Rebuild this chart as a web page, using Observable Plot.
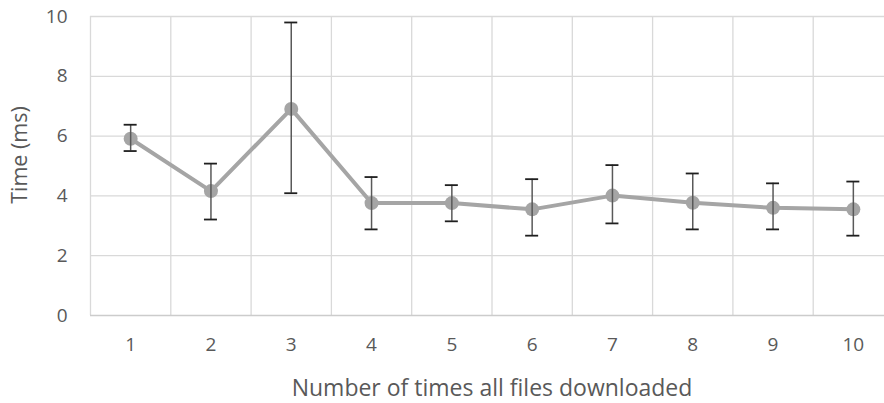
<!DOCTYPE html>
<html>
<head>
<meta charset="utf-8">
<script src="https://cdn.jsdelivr.net/npm/d3@7"></script>
<script src="https://cdn.jsdelivr.net/npm/@observablehq/plot@0.6"></script>
<style>
  html, body { margin: 0; padding: 0; background: #fff; overflow: hidden; width: 884px; height: 403px; }
  #chart { width: 884px; height: 403px; overflow: hidden; position: relative; }
</style>
</head>
<body>
<div id="chart"></div>
<script>
const runs = [1, 2, 3, 4, 5, 6, 7, 8, 9, 10];
const meanTime = [5.91, 4.16, 6.91, 3.76, 3.76, 3.55, 4.01, 3.77, 3.60, 3.55];
const upperTime = [6.38, 5.08, 9.80, 4.63, 4.36, 4.56, 5.03, 4.75, 4.42, 4.48];
const lowerTime = [5.50, 3.21, 4.09, 2.88, 3.15, 2.67, 3.08, 2.88, 2.88, 2.67];
const yTicks = [0, 2, 4, 6, 8, 10];

const data = runs.map((r, i) => ({run: r, mean: meanTime[i], hi: upperTime[i], lo: lowerTime[i]}));
const boundaries = [...runs.map(r => r - 0.5), runs[runs.length - 1] + 0.5];

const font = "'Open Sans', 'Liberation Sans', sans-serif";
const plot = Plot.plot({
  width: 893,
  height: 403,
  marginLeft: 90,
  marginRight: 0,
  marginTop: 16,
  marginBottom: 88,
  style: {fontFamily: font, fontSize: "16px", color: "#595959", background: "#fff", maxWidth: "none", overflow: "visible"},
  x: {type: "linear", domain: [0.5, 10.5], label: null},
  y: {type: "linear", domain: [0, 10], label: null},
  marks: [
    Plot.ruleY(yTicks.filter(t => t > 0), {stroke: "#d9d9d9", strokeWidth: 1.3}),
    Plot.ruleX(boundaries, {stroke: "#d9d9d9", strokeWidth: 1.3}),
    Plot.ruleY([0], {stroke: "#cccccc", strokeWidth: 1.5}),
    Plot.axisX({ticks: runs, tickSize: 0, tickPadding: 22, tickFormat: d => String(d), fill: "#595959", fontSize: 19, label: null}),
    Plot.axisY({ticks: yTicks, tickSize: 0, tickPadding: 23, fill: "#595959", fontSize: 19, label: null}),
    Plot.line(data, {x: "run", y: "mean", stroke: "#a5a5a5", strokeWidth: 4, strokeLinejoin: "round"}),
    Plot.dot(data, {x: "run", y: "mean", r: 7, fill: "#a5a5a5", stroke: "none"}),
    Plot.ruleX(data, {x: "run", y1: "lo", y2: "hi", stroke: "#595959", strokeWidth: 1.5}),
    Plot.ruleY(data, {x1: "run", x2: "run", y: "hi", stroke: "#1f1f1f", strokeWidth: 1.8, insetLeft: -6.5, insetRight: -6.5}),
    Plot.ruleY(data, {x1: "run", x2: "run", y: "lo", stroke: "#1f1f1f", strokeWidth: 1.8, insetLeft: -6.5, insetRight: -6.5}),
    Plot.text(["Number of times all files downloaded"], {frameAnchor: "bottom", x: 5.5, dy: 73, fill: "#595959", fontSize: 23, lineAnchor: "middle"}),
    Plot.text(["Time (ms)"], {frameAnchor: "left", textAnchor: "middle", dx: -70, dy: -11, rotate: -90, fill: "#595959", fontSize: 21.5})
  ]
});
document.getElementById("chart").appendChild(plot);
</script>
</body>
</html>
